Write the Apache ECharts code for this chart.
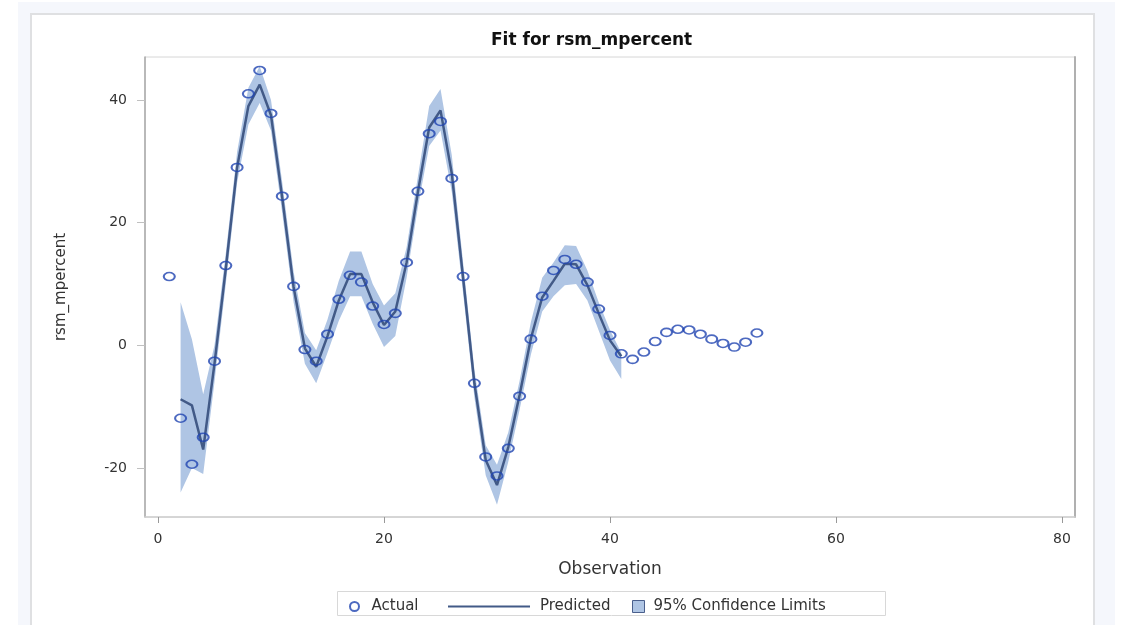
<!DOCTYPE html>
<html>
<head>
<meta charset="utf-8">
<script src="https://cdn.jsdelivr.net/npm/echarts@6/dist/echarts.min.js"></script>
<style>
html,body{margin:0;padding:0;background:#fff;width:1125px;height:625px;overflow:hidden;}
#bg{position:absolute;left:18px;top:2px;width:1097px;height:640px;background:#f5f7fc;}
#panel{position:absolute;left:30px;top:13px;width:1061px;height:640px;background:#fff;border:2px solid #dfe0e2;}
#chart{position:absolute;left:0;top:0;width:1125px;height:625px;}
</style>
</head>
<body>
<div id="bg"></div>
<div id="panel"></div>
<div id="chart"></div>
<script>
// Observation numbers and actual values
const obs = [1,2,3,4,5,6,7,8,9,10,11,12,13,14,15,16,17,18,19,20,21,22,23,24,25,26,27,28,29,30,31,32,33,34,35,36,37,38,39,40,41,42,43,44,45,46,47,48,49,50,51,52,53];
const actual = [11.2,-11.9,-19.4,-15.0,-2.6,13.0,29.0,41.0,44.8,37.8,24.3,9.6,-0.7,-2.6,1.8,7.5,11.4,10.3,6.4,3.4,5.2,13.5,25.1,34.5,36.5,27.2,11.2,-6.2,-18.2,-21.3,-16.8,-8.3,1.0,8.0,12.2,14.0,13.2,10.3,5.9,1.6,-1.4,-2.3,-1.1,0.6,2.1,2.6,2.5,1.8,1.0,0.3,-0.3,0.5,2.0];
// Fitted observations
const fitObs = [2,3,4,5,6,7,8,9,10,11,12,13,14,15,16,17,18,19,20,21,22,23,24,25,26,27,28,29,30,31,32,33,34,35,36,37,38,39,40,41];
const predicted = [-8.8,-9.8,-17.0,-3.0,12.5,29.0,39.0,42.5,37.5,24.0,9.5,-0.5,-3.5,1.5,7.3,11.6,11.6,7.0,3.3,5.5,13.5,25.0,35.5,38.3,28.0,11.0,-6.2,-18.7,-22.8,-16.6,-8.1,1.1,7.8,10.5,13.3,13.2,9.8,5.2,0.8,-1.8];
const lowerCL = [-24.0,-20.0,-21.0,-6.0,10.0,26.5,36.0,39.5,35.0,21.5,7.0,-3.0,-6.2,-1.2,4.0,8.0,8.0,3.5,-0.3,1.5,11.0,22.5,32.5,35.0,25.0,8.5,-8.5,-21.2,-26.0,-19.0,-10.5,-1.5,5.5,8.0,9.8,10.0,7.3,2.4,-2.5,-5.5];
const upperCL = [7.0,1.0,-8.0,0.0,15.0,31.5,42.0,45.5,40.0,26.5,12.0,2.0,-0.8,4.2,10.5,15.3,15.3,10.0,6.5,8.5,16.0,27.5,39.0,41.8,31.0,13.5,-4.0,-16.3,-19.5,-14.2,-5.8,3.8,11.0,13.5,16.3,16.2,12.2,7.0,2.5,-1.2];
const xTicks = [0,20,40,60,80];
const yTicks = [-20,0,20,40];

const FONT = 'DejaVu Sans';
const chart = echarts.init(document.getElementById('chart'), null, {renderer:'canvas'});

const actualData = obs.map((x,i)=>[x, actual[i]]);
const predData = fitObs.map((x,i)=>[x, predicted[i]]);

const bandColor = '#afc5e4';
const lineColor = '#425a87';
const ptColor = '#1f44b0';

function renderBand(params, api){
  if (params.dataIndex !== 0) return null;
  const up = fitObs.map((x,i)=>api.coord([x, upperCL[i]]));
  const lo = fitObs.map((x,i)=>api.coord([x, lowerCL[i]])).reverse();
  return {type:'polygon', shape:{points: up.concat(lo)}, style:{fill:bandColor}, silent:true};
}

chart.setOption({
  animation:false,
  title:{
    text:'Fit for rsm_mpercent',
    left:486, top:27,
    textStyle:{fontFamily:FONT, fontSize:17, fontWeight:'bold', color:'#111'}
  },
  grid:{left:145, top:57, right:50, bottom:108, show:true, borderColor:'#d6d6d6', borderWidth:1, backgroundColor:'transparent'},
  xAxis:{
    type:'value', min:-1.15, max:81.15,
    name:'Observation', nameLocation:'middle', nameGap:44,
    nameTextStyle:{fontFamily:FONT, fontSize:17, color:'#333'},
    axisLine:{show:true, onZero:false, lineStyle:{color:'#d0d0d0', width:1.5}},
    axisTick:{show:true, length:6, customValues:xTicks, lineStyle:{color:'#999'}},
    axisLabel:{customValues:xTicks, margin:15, fontFamily:FONT, fontSize:14, color:'#333'},
    splitLine:{show:false}
  },
  yAxis:[{
    type:'value', min:-28, max:47, position:'left',
    name:'rsm_mpercent', nameLocation:'middle', nameGap:76, nameRotate:90,
    nameTextStyle:{fontFamily:FONT, fontSize:15, color:'#333'},
    axisLine:{show:true, onZero:false, lineStyle:{color:'#a8a8a8', width:1.5}},
    axisTick:{show:true, length:8, customValues:yTicks, lineStyle:{color:'#c0c0c0'}},
    axisLabel:{customValues:yTicks, margin:18, fontFamily:FONT, fontSize:14, color:'#333'},
    splitLine:{show:false}
  },{
    type:'value', min:-28, max:47, position:'right',
    axisLine:{show:true, onZero:false, lineStyle:{color:'#b0b0b0', width:2}},
    axisTick:{show:false}, axisLabel:{show:false}, splitLine:{show:false}
  }],
  legend:[{
    left:344, top:594, itemWidth:12, itemHeight:9, itemGap:0,
    data:['Actual'],
    textStyle:{fontFamily:FONT, fontSize:15, color:'#333', padding:[0,0,0,6]}
  },{
    left:443, top:594, itemWidth:82, itemHeight:2, itemGap:0,
    data:[{name:'Predicted', icon:'rect', itemStyle:{color:lineColor}}],
    textStyle:{fontFamily:FONT, fontSize:15, color:'#333', padding:[0,0,0,5]}
  },{
    left:627, top:594, itemWidth:12, itemHeight:12, itemGap:0,
    data:[{name:'95% Confidence Limits', icon:'rect', itemStyle:{color:bandColor, borderColor:'#4a5f8c', borderWidth:1}}],
    textStyle:{fontFamily:FONT, fontSize:15, color:'#333', padding:[0,0,0,4]}
  }],
  graphic:[{
    type:'rect', left:337, top:591, z:-1,
    shape:{width:548, height:24},
    style:{fill:'#fff', stroke:'#d8d8d8', lineWidth:1}
  }],
  series:[{
    name:'95% Confidence Limits', type:'custom', data:[0], renderItem:renderBand,
    itemStyle:{color:bandColor}, silent:true, z:1
  },{
    name:'Predicted', type:'line', data:predData, symbol:'none',
    lineStyle:{color:lineColor, width:2.5}, itemStyle:{color:lineColor}, z:2
  },{
    name:'Actual', type:'scatter', data:actualData, symbol:'circle', symbolSize:[11,8],
    itemStyle:{color:'rgba(255,255,255,0)', borderColor:ptColor, borderWidth:1.8}, z:3
  }]
});
</script>
</body>
</html>
